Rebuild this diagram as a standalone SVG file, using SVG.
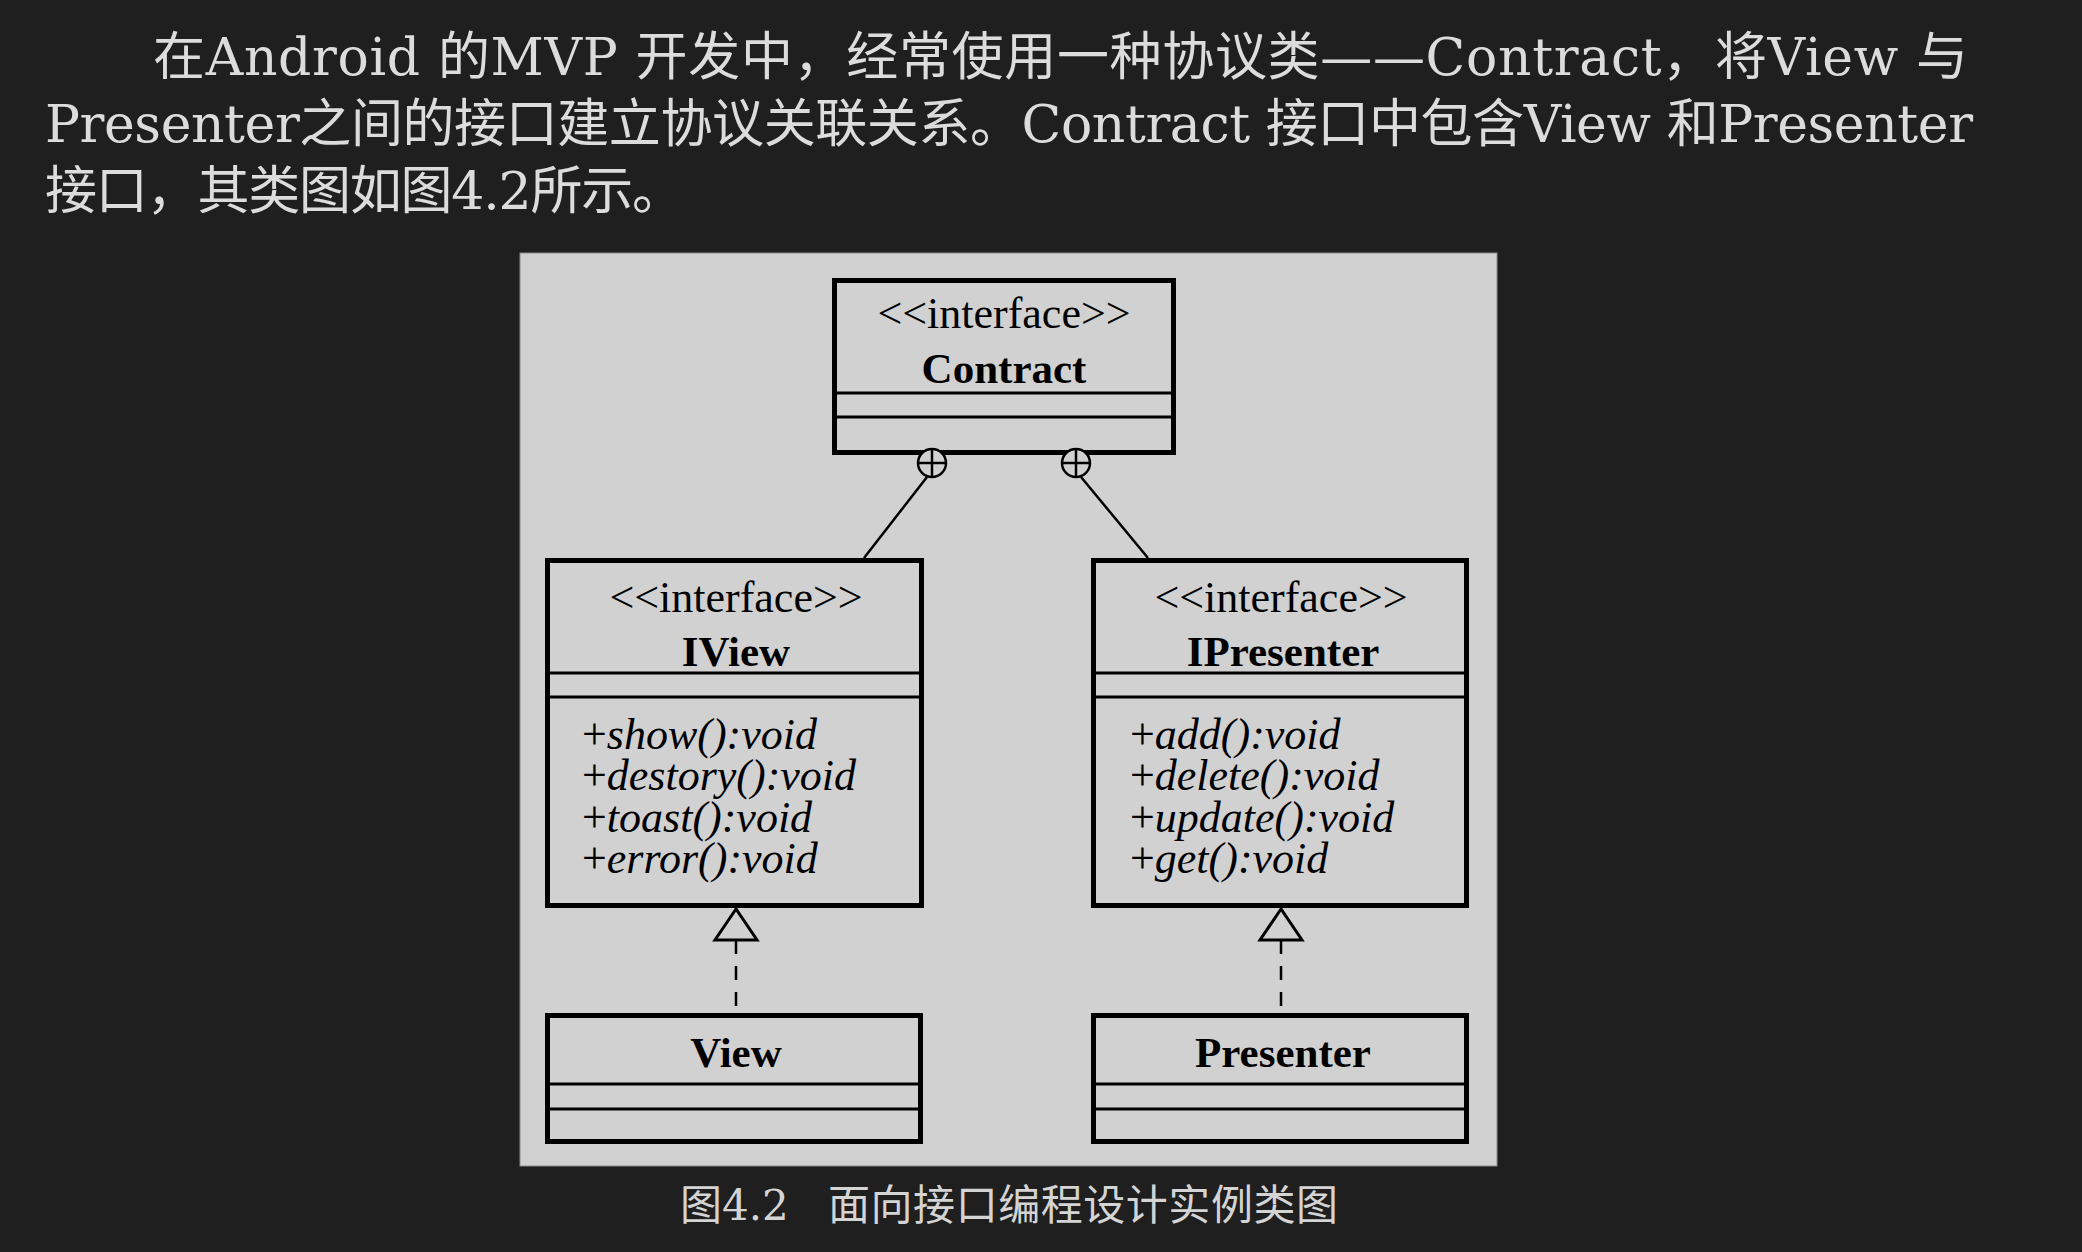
<svg xmlns="http://www.w3.org/2000/svg" width="2082" height="1252" viewBox="0 0 2082 1252">
<style>
.para{font-family:"DejaVu Serif","Noto Sans CJK SC",serif;font-size:52px;fill:#dcdcdc}
.cap{font-family:"DejaVu Serif","Noto Sans CJK SC",serif;font-size:42px;fill:#d4d4d4}
.box{fill:#d1d1d1;stroke:#000;stroke-width:5}
.sep{stroke:#000;stroke-width:3}
.st{font-family:"Liberation Serif",serif;font-size:44px;text-anchor:middle;fill:#000}
.nm{font-family:"Liberation Serif",serif;font-size:43px;font-weight:bold;text-anchor:middle;fill:#000}
.op{font-family:"Liberation Serif",serif;font-size:44px;font-style:italic;fill:#000}
.pl{font-style:normal}
.edge{stroke:#000;stroke-width:2.5;fill:none}
.dash{stroke-dasharray:14 12}
.tri{fill:#d1d1d1;stroke:#000;stroke-width:3;stroke-linejoin:miter}
.nest{fill:#d1d1d1;stroke:#000;stroke-width:2.5}
</style>
<rect width="2082" height="1252" fill="#1f1f1f"/>
<g id="paragraph">
<text class="para" x="153" y="75" textLength="1815" lengthAdjust="spacing">在Android 的MVP 开发中，经常使用一种协议类——Contract，将View 与</text>
<text class="para" x="45" y="142" textLength="1928" lengthAdjust="spacing">Presenter之间的接口建立协议关联关系。Contract 接口中包含View 和Presenter</text>
<text class="para" x="45" y="209" textLength="639" lengthAdjust="spacing">接口，其类图如图4.2所示。</text>
</g>
<rect id="panel" x="520" y="253" width="977" height="913" fill="#d1d1d1" stroke="#8a8a8a" stroke-width="1"/>
<g id="connectors">
<line class="edge" x1="927" y1="477" x2="864" y2="558"/>
<line class="edge" x1="1081" y1="477" x2="1148" y2="558"/>
<line class="edge dash" x1="736" y1="940" x2="736" y2="1013"/>
<line class="edge dash" x1="1281" y1="940" x2="1281" y2="1013"/>
<polygon class="tri" points="736,909 715,940 757,940"/>
<polygon class="tri" points="1281,909 1260,940 1302,940"/>
</g>
<g id="Contract">
<rect class="box" x="834.5" y="280.5" width="339" height="172"/>
<line class="sep" x1="834" y1="393" x2="1174" y2="393"/>
<line class="sep" x1="834" y1="417" x2="1174" y2="417"/>
<text class="st" x="1004" y="328">&lt;&lt;interface&gt;&gt;</text>
<text class="nm" x="1004" y="383">Contract</text>
</g>
<g id="nest-symbols">
<circle class="nest" cx="932" cy="463" r="14"/>
<line class="edge" x1="918" y1="463" x2="946" y2="463"/>
<line class="edge" x1="932" y1="449" x2="932" y2="477"/>
<circle class="nest" cx="1076" cy="463" r="14"/>
<line class="edge" x1="1062" y1="463" x2="1090" y2="463"/>
<line class="edge" x1="1076" y1="449" x2="1076" y2="477"/>
</g>
<g id="IView">
<rect class="box" x="547.5" y="560.5" width="374" height="345"/>
<line class="sep" x1="547" y1="673" x2="922" y2="673"/>
<line class="sep" x1="547" y1="697" x2="922" y2="697"/>
<text class="st" x="736" y="612">&lt;&lt;interface&gt;&gt;</text>
<text class="nm" x="736" y="666">IView</text>
<text class="op" x="582" y="749"><tspan class="pl">+</tspan>show():void</text>
<text class="op" x="582" y="790"><tspan class="pl">+</tspan>destory():void</text>
<text class="op" x="582" y="832"><tspan class="pl">+</tspan>toast():void</text>
<text class="op" x="582" y="873"><tspan class="pl">+</tspan>error():void</text>
</g>
<g id="IPresenter">
<rect class="box" x="1093.5" y="560.5" width="373" height="345"/>
<line class="sep" x1="1093" y1="673" x2="1467" y2="673"/>
<line class="sep" x1="1093" y1="697" x2="1467" y2="697"/>
<text class="st" x="1281" y="612">&lt;&lt;interface&gt;&gt;</text>
<text class="nm" x="1283" y="666">IPresenter</text>
<text class="op" x="1130" y="749"><tspan class="pl">+</tspan>add():void</text>
<text class="op" x="1130" y="790"><tspan class="pl">+</tspan>delete():void</text>
<text class="op" x="1130" y="832"><tspan class="pl">+</tspan>update():void</text>
<text class="op" x="1130" y="873"><tspan class="pl">+</tspan>get():void</text>
</g>
<g id="View">
<rect class="box" x="547.5" y="1015.5" width="373" height="126"/>
<line class="sep" x1="547" y1="1084" x2="921" y2="1084"/>
<line class="sep" x1="547" y1="1109" x2="921" y2="1109"/>
<text class="nm" x="736" y="1067">View</text>
</g>
<g id="Presenter">
<rect class="box" x="1093.5" y="1015.5" width="373" height="126"/>
<line class="sep" x1="1093" y1="1084" x2="1467" y2="1084"/>
<line class="sep" x1="1093" y1="1109" x2="1467" y2="1109"/>
<text class="nm" x="1283" y="1067">Presenter</text>
</g>
<g id="caption">
<text class="cap" x="680" y="1220">图4.2</text>
<text class="cap" x="828" y="1220" textLength="510" lengthAdjust="spacing">面向接口编程设计实例类图</text>
</g>
</svg>
